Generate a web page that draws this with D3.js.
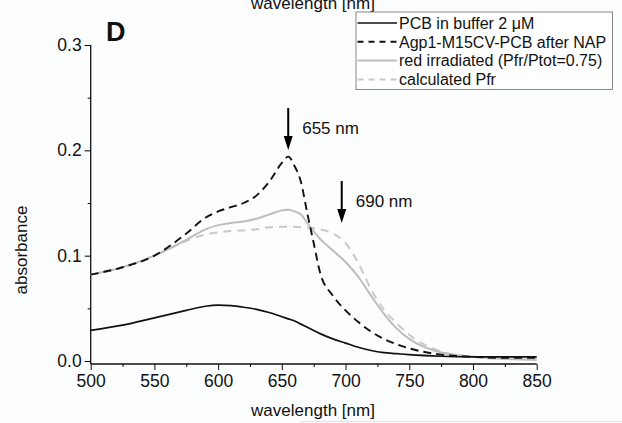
<!DOCTYPE html>
<html><head><meta charset="utf-8">
<script src="https://cdn.jsdelivr.net/npm/d3@7"></script>
<style>
html,body{margin:0;padding:0;background:#fcfdfe;}
svg{display:block;font-family:"Liberation Sans",Arial,sans-serif;}
</style></head>
<body>
<script>
const wavelengths = [500,525,550,575,590,600,610,620,630,640,650,655,660,665,670,675,680,690,700,710,720,730,740,750,775,800,825,850];
const pcbBuffer   = [.029,.034,.041,.048,.052,.053,.0525,.051,.049,.046,.042,.040,.038,.035,.032,.029,.026,.021,.017,.013,.010,.008,.007,.006,.0045,.004,.004,.004];
const afterNAP    = [.082,.089,.100,.121,.136,.142,.146,.150,.157,.170,.188,.194,.185,.170,.140,.112,.084,.062,.048,.037,.028,.021,.016,.012,.006,.004,.003,.003];
const redIrrad    = [.082,.089,.100,.115,.125,.129,.131,.1325,.135,.139,.143,.1437,.142,.139,.131,.123,.116,.105,.094,.080,.062,.045,.031,.021,.008,.004,.002,.001];
const calcPfr     = [.082,.089,.100,.114,.120,.122,.1235,.124,.125,.127,.1275,.1275,.1275,.127,.1268,.126,.125,.121,.112,.093,.068,.049,.036,.025,.009,.004,.002,.002];
const seriesNames = ["PCB in buffer 2 \u03BCM","Agp1-M15CV-PCB after NAP","red irradiated (Pfr/Ptot=0.75)","calculated Pfr"];
const xTicks = [500,550,600,650,700,750,800,850];
const yTicks = [0.0,0.1,0.2,0.3];
const arrows = [{w:655,label:"655 nm"},{w:697,label:"690 nm"}];

const W=622,H=423;
const svg=d3.select("body").append("svg").attr("width",W).attr("height",H);
const x=d3.scaleLinear().domain([500,850]).range([90.7,536.7]);
const y=d3.scaleLinear().domain([0,0.3]).range([361,45]);

const styles=[
 {data:pcbBuffer,color:"#111",width:1.7,dash:null,legDash:null},
 {data:afterNAP,color:"#111",width:1.9,dash:"8,5",legDash:"6,5"},
 {data:redIrrad,color:"#bdbdbd",width:2,dash:null,legDash:null},
 {data:calcPfr,color:"#c9c9c9",width:2,dash:"8,6",legDash:"6,5"}
];

// axes
const xAxis=d3.axisBottom(x).tickValues(xTicks).tickSize(6).tickSizeOuter(0).tickFormat(d3.format("d"));
const gx=svg.append("g").attr("transform","translate(0,364)").call(xAxis);
gx.select(".domain").attr("d",`M${x(500)},0H${x(850)}`);
gx.selectAll(".tick text").attr("font-size",17.5).attr("fill","#111").attr("dy","0.8em");
gx.selectAll(".tick line").attr("stroke","#111");
const gxm=svg.append("g").attr("transform","translate(0,364)").call(d3.axisBottom(x).tickValues(d3.range(525,850,50)).tickSize(3).tickFormat(""));
gxm.select(".domain").remove();

const yAxis=d3.axisLeft(y).tickValues(yTicks).tickSize(6).tickSizeOuter(0).tickFormat(d3.format(".1f"));
const gy=svg.append("g").attr("transform","translate(90.7,0)").call(yAxis);
gy.select(".domain").attr("d",`M0,${y(0.3)}V364`);
gy.selectAll(".tick text").attr("font-size",17.5).attr("fill","#111");
const gym=svg.append("g").attr("transform","translate(90.7,0)").call(d3.axisLeft(y).tickValues([0.05,0.15,0.25]).tickSize(3).tickFormat(""));
gym.select(".domain").remove();
svg.selectAll(".domain").attr("stroke","#111").attr("stroke-width",1.3);

// titles
svg.append("text").attr("x",313).attr("y",416).attr("text-anchor","middle").attr("font-size",17).attr("fill","#111").text("wavelength [nm]");
svg.append("text").attr("x",313).attr("y",9).attr("text-anchor","middle").attr("font-size",17).attr("fill","#111").text("wavelength [nm]");
svg.append("text").attr("transform","translate(27,250) rotate(-90)").attr("text-anchor","middle").attr("font-size",17).attr("fill","#111").text("absorbance");
svg.append("text").attr("x",106).attr("y",41).attr("font-size",27).attr("font-weight","bold").attr("fill","#111").text("D");

// lines
const line=d3.line().x((d,i)=>x(wavelengths[i])).y(d=>y(d)).curve(d3.curveMonotoneX);
styles.slice().reverse().forEach(s=>{
  svg.append("path").datum(s.data).attr("d",line).attr("fill","none")
   .attr("stroke",s.color).attr("stroke-width",s.width).attr("stroke-dasharray",s.dash);
});

// arrows
const arrowTop=[108,181], arrowTip=[150,223];
arrows.forEach((a,i)=>{
  const ax=x(a.w);
  svg.append("line").attr("x1",ax).attr("x2",ax).attr("y1",arrowTop[i]).attr("y2",arrowTip[i]-10).attr("stroke","#000").attr("stroke-width",2);
  svg.append("path").attr("d",`M${ax-4.5},${arrowTip[i]-14}L${ax+4.5},${arrowTip[i]-14}L${ax},${arrowTip[i]}Z`).attr("fill","#000");
  svg.append("text").attr("x",ax+14).attr("y",(arrowTop[i]+arrowTip[i])/2-1).attr("dy","0.35em").attr("font-size",17).attr("fill","#111").text(a.label);
});

// legend
const lg=svg.append("g");
lg.append("rect").attr("x",356).attr("y",12).attr("width",256.5).attr("height",77.5).attr("fill","#fff").attr("stroke","#888").attr("stroke-width",1);
styles.forEach((s,i)=>{
  const ly=23+i*18.8;
  lg.append("line").attr("x1",357.5).attr("x2",397).attr("y1",ly).attr("y2",ly).attr("stroke",s.color).attr("stroke-width",s.width).attr("stroke-dasharray",s.legDash);
  lg.append("text").attr("x",399).attr("y",ly).attr("dy","0.36em").attr("font-size",16).attr("fill","#111").text(seriesNames[i]);
});

// faint bottom line
svg.append("line").attr("x1",300).attr("x2",622).attr("y1",421.5).attr("y2",421.5).attr("stroke","#e2e2e2").attr("stroke-width",1);
</script>
</body></html>
